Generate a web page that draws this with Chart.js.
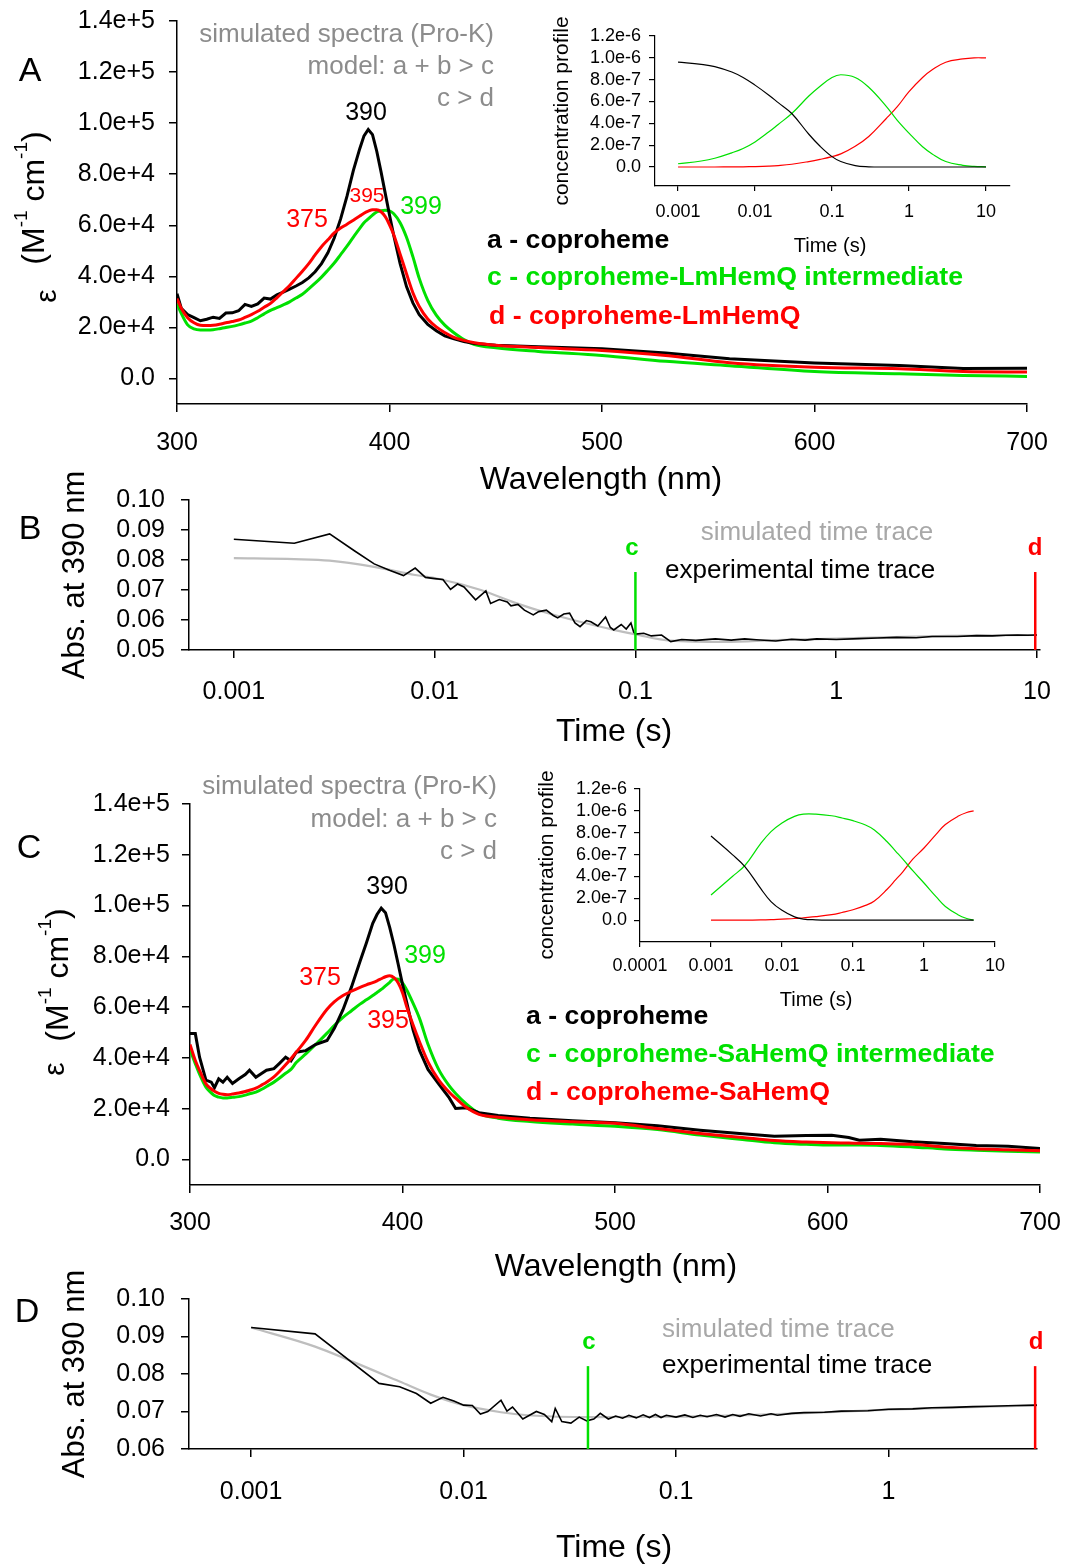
<!DOCTYPE html>
<html>
<head>
<meta charset="utf-8">
<script src="https://cdn.jsdelivr.net/npm/chart.js@4.4.0/dist/chart.umd.min.js"></script>
<style>
  body { margin: 0; background: #fff; }
  #fig { position: relative; width: 1065px; height: 1566px; overflow: hidden; background: #fff; }
  #fig canvas { position: absolute; }
</style>
</head>
<body>
<div id="fig">
  <canvas id="specA"></canvas>
  <canvas id="insetA"></canvas>
  <canvas id="traceB"></canvas>
  <canvas id="specC"></canvas>
  <canvas id="insetC"></canvas>
  <canvas id="traceD"></canvas>
</div>
<script>
// ---- data ----

// Panel A spectra (LmHemQ)
const wlA = [300,302,305,308,311,314,317,320,323,326,329,332,335,338,341,344,347,350,353,356,
  359,362,365,368,371,374,377,380,383,386,388,390,392,394,396,398,400,402,405,408,
  411,414,418,422,426,430,435,440,450,470,500,530,560,600,640,670,700];
const specA_a = [33200,27500,25000,23800,22600,23200,24000,23500,25600,25700,
  26500,29000,28200,29200,31500,31100,32800,33800,35000,36200,
  37600,39400,41800,45000,49200,55000,62500,71400,81500,90000,
  95000,97500,95500,89000,81000,72500,64000,56000,45000,36000,
  29600,25000,21200,18700,16700,15600,14500,13700,13000,12400,
  11600,10000,7700,6100,5100,3900,4000];
const specA_c = [29300,25500,21000,19400,19000,19000,19100,19500,20000,20400,
  21000,21700,22500,23800,25300,26700,27700,28800,30000,31500,
  33000,35100,37300,39700,42400,45200,48500,51800,55400,58800,
  61000,62500,64000,65200,65700,65900,65600,64500,61000,55300,
  47700,39200,30600,24800,20900,18100,15200,13300,12000,10600,
  9000,6700,5000,2700,1800,1200,800];
const specA_d = [31300,27500,23800,21800,20800,20700,20800,21200,21800,22300,
  22900,23900,25000,26300,27900,29400,31600,34000,36400,39200,
  42000,45000,48400,51600,54300,57000,58900,60400,62000,63600,
  64700,65500,66100,66100,65300,63400,60200,56300,48700,41000,
  33600,28200,23300,20200,18000,16200,14900,14000,13000,12100,
  11000,9000,6200,4400,3800,2700,2500];

// Panel C spectra (SaHemQ)
const wlC = [300,302.5,304.5,307.5,310,311.5,313.5,315.5,317.5,320,
  323,326,328,331,334,336,339.5,342,345,347.5,
  350,354.5,359,364.5,368,372,376,380,383,386,
  388,390,392,394,396,398,400,402,405,408,
  412,417,422,425,430,436,445,460,480,500,
  520,540,560,575,590,602,610,615,625,640,
  655,670,685,700];
const specC_a = [49600,49600,40300,31300,30500,28300,31800,30500,32400,30000,
  31800,33500,35200,32400,34100,35200,35800,37800,40300,38900,
  42300,42900,45300,46900,51800,59000,68000,78000,85300,93000,
  96500,99000,97200,91300,84500,76800,69000,61800,51000,43000,
  35500,29800,24300,20100,20400,18500,17400,16300,15300,14500,
  13300,11600,10200,9200,9500,9600,8700,7600,8000,7000,
  6300,5600,5300,4400];
const specC_c = [43400,37800,33600,28500,26300,25200,24600,24300,24300,24500,
  24800,25400,25900,26600,27800,28800,30500,32000,34000,35500,
  38200,41600,45200,49800,52900,56000,58600,61200,62900,64600,
  65800,67000,68400,69800,71200,71000,69600,66800,61500,55600,
  45400,35500,29000,26000,21900,18200,16300,15000,14000,13100,
  11800,9700,7900,6600,6000,5700,5700,5700,5600,5000,
  4200,3700,3300,3000];
const specC_d = [45300,39000,35100,29800,27800,26900,26100,25700,25500,25800,
  26200,26800,27300,28100,29500,30500,32600,34600,37300,39700,
  42300,47000,52800,59200,62200,64600,66300,67800,68800,69700,
  70400,71200,72000,72400,71600,69500,65700,60200,53000,46400,
  38500,31400,26500,24200,20600,17800,16700,15700,14900,14300,
  12200,10300,8700,7500,6900,6600,6500,6400,6300,6000,
  5000,4300,3900,3500];

// Panel B time traces
const tB_exp = [0.001,0.002,0.003,0.004,0.005,0.006,0.007,0.008,0.009,0.010,0.011,0.012,0.013,0.014,
  0.016,0.018,0.019,0.021,0.023,0.024,0.026,0.028,0.031,0.033,0.036,0.039,0.041,0.044,0.047,0.050,
  0.053,0.057,0.060,0.065,0.071,0.075,0.078,0.085,0.090,0.095,0.098,0.10,0.11,0.12,0.135,
  0.15,0.17,0.2,0.25,0.3,0.35,0.4,0.5,0.6,0.7,0.8,1.0,1.3,1.6,2.0,2.5,3.0,4.0,5.0,6.0,7.0,8.0,9.0,10.0];
const absB_exp = [0.0869,0.0856,0.0887,0.0830,0.0787,0.0765,0.0748,0.0773,0.0742,0.0738,
  0.0735,0.0702,0.0720,0.0710,0.0667,0.0697,0.0655,0.0668,0.0660,0.0647,
  0.0652,0.0633,0.0617,0.0628,0.0633,0.0615,0.0607,0.0620,0.0623,0.0590,
  0.0578,0.0598,0.0594,0.0580,0.0610,0.0575,0.0567,0.0585,0.0570,0.0590,
  0.0560,0.0553,0.0556,0.0547,0.0550,0.0528,0.0535,0.0532,0.0537,0.0533,
  0.0537,0.0534,0.0530,0.0536,0.0533,0.0537,0.0535,0.0538,0.0540,0.0542,
  0.0541,0.0545,0.0545,0.0548,0.0547,0.0549,0.0550,0.0549,0.0550];
const tB_sim = [0.001,0.002,0.003,0.005,0.008,0.01,0.017,0.025,0.036,0.053,0.078,0.1,0.15,0.28,0.5,1,3.6,10];
const absB_sim = [0.0806,0.0803,0.0798,0.0777,0.0750,0.0740,0.0700,0.0658,0.0624,0.0594,0.0567,0.0552,
  0.0531,0.0527,0.0533,0.0538,0.0547,0.0550];
const markB_t = [0.1, 9.8];       // c, d
const markB_span = [0.05, 0.076];

// Panel D time traces
const tD_exp = [0.001,0.002,0.004,0.005,0.006,0.007,0.008,0.009,0.010,
  0.011,0.012,0.013,0.015,0.016,0.017,0.019,0.022,0.024,0.026,
  0.027,0.029,0.032,0.035,0.038,0.041,0.044,0.048,0.052,0.056,
  0.06,0.065,0.07,0.075,0.08,0.085,0.09,0.1,0.11,0.12,0.13,0.14,0.155,0.17,0.185,
  0.2,0.22,0.25,0.28,0.3,0.35,0.4,0.5,0.6,0.8,1.0,1.3,
  1.6,2.0,2.5,3.0,4.0,5.0];
const absD_exp = [0.0924,0.0907,0.0775,0.0766,0.0748,0.0722,0.0738,0.0728,0.0717,
  0.0716,0.0693,0.0700,0.0730,0.0701,0.0712,0.0680,0.0700,0.0692,0.0673,
  0.0708,0.0673,0.0669,0.0685,0.0675,0.0680,0.0695,0.0680,0.0688,0.0682,
  0.0690,0.0683,0.0691,0.0684,0.0692,0.0684,0.0690,0.0685,0.0691,0.0684,0.0690,0.0686,0.0692,0.0685,0.0692,
  0.0687,0.0694,0.0688,0.0694,0.0690,0.0695,0.0697,0.0698,0.0701,0.0702,0.0706,0.0707,
  0.0710,0.0711,0.0713,0.0714,0.0716,0.0717];
const tD_sim = [0.001,0.002,0.003,0.005,0.007,0.01,0.015,0.02,0.04,0.1,0.3,1,2,5];
const absD_sim = [0.0924,0.0873,0.0833,0.0780,0.0745,0.0717,0.0698,0.0690,0.0685,0.0686,0.0693,0.0705,0.0710,0.0716];
const markD_t = [0.0385, 4.9];
const markD_span = [0.06, 0.0821];

// Insets: concentration profiles
const tInA = [0.001,0.002,0.003,0.005,0.007,0.01,0.015,0.02,0.03,0.05,0.07,0.1,0.13,0.2,0.3,0.5,0.7,1,1.5,2,3,5,7,10];
const concA_a = [9.6e-7,9.4e-7,9.2e-7,8.7e-7,8.2e-7,7.5e-7,6.6e-7,5.9e-7,4.9e-7,3.0e-7,1.9e-7,0.95e-7,0.5e-7,0.12e-7,0.02e-7,0,0,0,0,0,0,0,0,0];
const concA_c = [0.3e-7,0.55e-7,0.8e-7,1.3e-7,1.7e-7,2.3e-7,3.2e-7,3.9e-7,4.9e-7,6.5e-7,7.4e-7,8.2e-7,8.45e-7,8.2e-7,7.3e-7,5.6e-7,4.3e-7,3.1e-7,1.85e-7,1.2e-7,0.5e-7,0.15e-7,0.05e-7,0.02e-7];
const concA_d = [0,0,0,0.01e-7,0.02e-7,0.04e-7,0.08e-7,0.13e-7,0.25e-7,0.5e-7,0.7e-7,0.95e-7,1.2e-7,1.9e-7,2.8e-7,4.4e-7,5.5e-7,6.9e-7,8.2e-7,8.9e-7,9.6e-7,9.9e-7,10e-7,10e-7];

const tInC = [0.001,0.002,0.003,0.005,0.007,0.01,0.015,0.02,0.03,0.05,0.07,0.1,0.15,0.2,0.3,0.4,0.5,0.7,1,1.5,2,3,4,5];
const concC_a = [7.7e-7,6.0e-7,4.9e-7,2.9e-7,1.7e-7,0.9e-7,0.3e-7,0.1e-7,0.03e-7,0,0,0,0,0,0,0,0,0,0,0,0,0,0,0];
const concC_c = [2.3e-7,4.0e-7,5.0e-7,7.0e-7,8.1e-7,8.9e-7,9.5e-7,9.7e-7,9.7e-7,9.55e-7,9.35e-7,9.1e-7,8.7e-7,8.25e-7,7.2e-7,6.3e-7,5.6e-7,4.5e-7,3.4e-7,2.1e-7,1.25e-7,0.5e-7,0.15e-7,0];
const concC_d = [0,0,0,0.02e-7,0.05e-7,0.1e-7,0.15e-7,0.22e-7,0.32e-7,0.5e-7,0.7e-7,0.95e-7,1.35e-7,1.75e-7,2.8e-7,3.7e-7,4.4e-7,5.6e-7,6.6e-7,7.9e-7,8.75e-7,9.5e-7,9.85e-7,10e-7];

// Tick values
const specTicks = [0, 20000, 40000, 60000, 80000, 100000, 120000, 140000];
const wlTicks = [300, 400, 500, 600, 700];
const absTicksB = [0.05, 0.06, 0.07, 0.08, 0.09, 0.10];
const absTicksD = [0.06, 0.07, 0.08, 0.09, 0.10];
const timeTicksB = [0.001, 0.01, 0.1, 1, 10];
const timeTicksD = [0.001, 0.01, 0.1, 1];
const concTicks = [0, 2e-7, 4e-7, 6e-7, 8e-7, 1.0e-6, 1.2e-6];
const inTimeTicksA = [0.001, 0.01, 0.1, 1, 10];
const inTimeTicksC = [0.0001, 0.001, 0.01, 0.1, 1, 10];

// ---- styling ----
const FONT = "'Liberation Sans', Arial, Helvetica, sans-serif";
const BLACK = '#000000';
const RED = '#ff0000';
const GREEN = '#00e000';
const GRAY_TXT = '#8c8c8c';
const GRAY_TXT2 = '#a8a8a8';
const GRAY_LINE = '#bebebe';

const expFmt = v => (v === 0 ? '0.0' : v.toExponential(1));
const absFmt = v => v.toFixed(2);
const timeFmt = v => String(v);

function pts(xs, ys) {
  return xs.map((x, i) => ({ x: x, y: ys[i] }));
}
function vline(t, span) {
  return [{ x: t, y: span[0] }, { x: t, y: span[1] }];
}

// draws free text (labels, axis titles) in page coordinates
function textLayer(items, ox, oy) {
  return {
    id: 'texts',
    afterDraw(chart) {
      const ctx = chart.ctx;
      items.forEach(it => {
        const size = it.size || 25;
        const weight = it.bold ? 'bold ' : '';
        const parts = it.parts || [{ t: it.text }];
        ctx.save();
        ctx.translate(it.x - ox, it.y - oy);
        if (it.rot) ctx.rotate(-Math.PI / 2);
        ctx.fillStyle = it.color || BLACK;
        ctx.textBaseline = 'middle';
        ctx.textAlign = 'left';
        const widths = parts.map(p => {
          ctx.font = weight + (p.sup ? Math.round(size * 0.6) : size) + 'px ' + FONT;
          return ctx.measureText(p.t).width;
        });
        const total = widths.reduce((a, b) => a + b, 0);
        let x0 = it.align === 'left' ? 0 : it.align === 'right' ? -total : -total / 2;
        parts.forEach((p, i) => {
          ctx.font = weight + (p.sup ? Math.round(size * 0.6) : size) + 'px ' + FONT;
          ctx.fillText(p.t, x0, p.sup ? -size * 0.42 : 0);
          x0 += widths[i];
        });
        ctx.restore();
      });
    }
  };
}

function axis(a, dir, size) {
  return {
    type: a.type,
    position: dir === 'x' ? 'bottom' : 'left',
    min: a.min,
    max: a.max,
    bounds: 'data',
    grid: { display: true, drawOnChartArea: false, drawTicks: true, tickLength: a.tickLen, color: BLACK, lineWidth: a.lw },
    border: { display: true, color: BLACK, width: a.lw },
    ticks: {
      font: { family: FONT, size: a.fontSize },
      color: BLACK,
      padding: a.pad,
      autoSkip: false,
      maxRotation: 0,
      minRotation: 0,
      callback: a.fmt
    },
    afterBuildTicks: s => { s.ticks = a.ticks.map(v => ({ value: v })); },
    afterFit: s => {
      if (dir === 'x') { s.height = size; s.paddingLeft = 0; s.paddingRight = 0; }
      else { s.width = size; s.paddingTop = 0; s.paddingBottom = 0; }
    }
  };
}

// cv: canvas box, area: plot box (page coords)
function makePanel(id, cv, area, xAx, yAx, datasets, texts) {
  const el = document.getElementById(id);
  el.width = cv.w; el.height = cv.h;
  el.style.left = cv.l + 'px'; el.style.top = cv.t + 'px';
  el.style.width = cv.w + 'px'; el.style.height = cv.h + 'px';
  return new Chart(el.getContext('2d'), {
    type: 'line',
    data: { datasets: datasets },
    options: {
      responsive: false,
      animation: false,
      devicePixelRatio: 1,
      layout: { padding: { top: area.t - cv.t, right: cv.l + cv.w - area.r, left: 0, bottom: 0 } },
      plugins: { legend: { display: false }, tooltip: { enabled: false } },
      elements: { point: { radius: 0 }, line: { fill: false } },
      scales: {
        x: axis(xAx, 'x', cv.t + cv.h - area.b),
        y: axis(yAx, 'y', area.l - cv.l)
      }
    },
    plugins: [textLayer(texts, cv.l, cv.t)]
  });
}

function line(data, color, width, smooth) {
  const ds = { data: data, borderColor: color, borderWidth: width, pointRadius: 0, tension: 0 };
  if (smooth === 'mono') ds.cubicInterpolationMode = 'monotone';
  else if (smooth) ds.tension = 0.4;
  return ds;
}

const epsTitle = [{ t: '(M' }, { t: '-1', sup: true }, { t: ' cm' }, { t: '-1', sup: true }, { t: ')' }];

// ---- Panel A ----
makePanel('specA', { l: 0, t: 0, w: 1065, h: 505 }, { l: 177, t: 21, r: 1027, b: 404 },
  { type: 'linear', min: 300, max: 700, ticks: wlTicks, fmt: v => String(v), fontSize: 25, tickLen: 8, lw: 1.5, pad: 16 },
  { type: 'linear', min: -10000, max: 140000, ticks: specTicks, fmt: expFmt, fontSize: 25, tickLen: 8, lw: 1.5, pad: 14 },
  [
    line(pts(wlA, specA_d), RED, 3, 'mono'),
    line(pts(wlA, specA_a), BLACK, 3, false),
    line(pts(wlA, specA_c), GREEN, 3, 'mono')
  ],
  [
    { text: 'A', x: 30, y: 72, size: 34 },
    { text: 'simulated spectra (Pro-K)', x: 494, y: 35, size: 26, color: GRAY_TXT, align: 'right' },
    { text: 'model: a + b > c', x: 494, y: 67, size: 26, color: GRAY_TXT, align: 'right' },
    { text: 'c > d', x: 494, y: 99, size: 26, color: GRAY_TXT, align: 'right' },
    { text: '390', x: 366, y: 113, size: 25 },
    { text: '395', x: 367, y: 196, size: 21, color: RED },
    { text: '375', x: 307, y: 220, size: 25, color: RED },
    { text: '399', x: 421, y: 207, size: 25, color: GREEN },
    { text: 'a - coproheme', x: 487, y: 241, size: 26.7, bold: true, align: 'left' },
    { text: 'c - coproheme-LmHemQ intermediate', x: 487, y: 278, size: 26.7, bold: true, color: GREEN, align: 'left' },
    { text: 'd - coproheme-LmHemQ', x: 489, y: 317, size: 26.7, bold: true, color: RED, align: 'left' },
    { text: 'Wavelength (nm)', x: 601, y: 480, size: 32 },
    { parts: epsTitle, x: 35, y: 198, size: 32, rot: true },
    { text: 'ε', x: 48, y: 296, size: 30, rot: true }
  ]);

// ---- Inset A ----
makePanel('insetA', { l: 540, t: 0, w: 490, h: 262 }, { l: 655, t: 36, r: 1010, b: 186 },
  { type: 'logarithmic', min: 5.02e-4, max: 20.5, ticks: inTimeTicksA, fmt: timeFmt, fontSize: 18, tickLen: 5, lw: 1.2, pad: 10 },
  { type: 'linear', min: -1.74e-7, max: 1.2e-6, ticks: concTicks, fmt: expFmt, fontSize: 18, tickLen: 6, lw: 1.2, pad: 8 },
  [
    line(pts(tInA, concA_a), BLACK, 1.2, true),
    line(pts(tInA, concA_c), GREEN, 1.2, true),
    line(pts(tInA, concA_d), RED, 1.2, true)
  ],
  [
    { text: 'concentration profile', x: 562, y: 111, size: 21, rot: true },
    { text: 'Time (s)', x: 830, y: 246, size: 20 }
  ]);

// ---- Panel B ----
makePanel('traceB', { l: 0, t: 455, w: 1065, h: 305 }, { l: 189, t: 500, r: 1040, b: 650 },
  { type: 'logarithmic', min: 5.98e-4, max: 10.35, ticks: timeTicksB, fmt: timeFmt, fontSize: 25, tickLen: 8, lw: 1.5, pad: 19 },
  { type: 'linear', min: 0.05, max: 0.10, ticks: absTicksB, fmt: absFmt, fontSize: 25, tickLen: 8, lw: 1.5, pad: 16 },
  [
    line(vline(markB_t[0], markB_span), GREEN, 2.5, false),
    line(vline(markB_t[1], markB_span), RED, 2.5, false),
    line(pts(tB_exp, absB_exp), BLACK, 1.6, false),
    line(pts(tB_sim, absB_sim), GRAY_LINE, 2.2, 'mono')
  ],
  [
    { text: 'B', x: 30, y: 530, size: 34 },
    { text: 'simulated time trace', x: 817, y: 533, size: 26, color: GRAY_TXT2 },
    { text: 'experimental time trace', x: 665, y: 571, size: 26, align: 'left' },
    { text: 'c', x: 632, y: 548, size: 24, bold: true, color: GREEN },
    { text: 'd', x: 1035, y: 548, size: 24, bold: true, color: RED },
    { text: 'Time (s)', x: 614, y: 732, size: 32 },
    { text: 'Abs. at 390 nm', x: 75, y: 575, size: 31, rot: true }
  ]);

// ---- Panel C ----
makePanel('specC', { l: 0, t: 760, w: 1065, h: 530 }, { l: 190, t: 804, r: 1040, b: 1185 },
  { type: 'linear', min: 300, max: 700, ticks: wlTicks, fmt: v => String(v), fontSize: 25, tickLen: 8, lw: 1.5, pad: 15 },
  { type: 'linear', min: -10000, max: 140000, ticks: specTicks, fmt: expFmt, fontSize: 25, tickLen: 8, lw: 1.5, pad: 12 },
  [
    line(pts(wlC, specC_d), RED, 3, 'mono'),
    line(pts(wlC, specC_a), BLACK, 3, false),
    line(pts(wlC, specC_c), GREEN, 3, 'mono')
  ],
  [
    { text: 'C', x: 29, y: 849, size: 34 },
    { text: 'simulated spectra (Pro-K)', x: 497, y: 787, size: 26, color: GRAY_TXT, align: 'right' },
    { text: 'model: a + b > c', x: 497, y: 820, size: 26, color: GRAY_TXT, align: 'right' },
    { text: 'c > d', x: 497, y: 852, size: 26, color: GRAY_TXT, align: 'right' },
    { text: '390', x: 387, y: 887, size: 25 },
    { text: '399', x: 425, y: 956, size: 25, color: GREEN },
    { text: '375', x: 320, y: 978, size: 25, color: RED },
    { text: '395', x: 388, y: 1021, size: 25, color: RED },
    { text: 'a - coproheme', x: 526, y: 1017, size: 26.7, bold: true, align: 'left' },
    { text: 'c - coproheme-SaHemQ intermediate', x: 526, y: 1055, size: 26.7, bold: true, color: GREEN, align: 'left' },
    { text: 'd - coproheme-SaHemQ', x: 526, y: 1093, size: 26.7, bold: true, color: RED, align: 'left' },
    { text: 'Wavelength (nm)', x: 616, y: 1267, size: 32 },
    { parts: epsTitle, x: 59, y: 975, size: 32, rot: true },
    { text: 'ε', x: 56, y: 1069, size: 30, rot: true }
  ]);

// ---- Inset C ----
makePanel('insetC', { l: 525, t: 755, w: 490, h: 265 }, { l: 640, t: 789, r: 995, b: 942 },
  { type: 'logarithmic', min: 1e-4, max: 10, ticks: inTimeTicksC, fmt: timeFmt, fontSize: 18, tickLen: 5, lw: 1.2, pad: 8 },
  { type: 'linear', min: -2.0e-7, max: 1.2e-6, ticks: concTicks, fmt: expFmt, fontSize: 18, tickLen: 6, lw: 1.2, pad: 7 },
  [
    line(pts(tInC, concC_a), BLACK, 1.2, true),
    line(pts(tInC, concC_c), GREEN, 1.2, true),
    line(pts(tInC, concC_d), RED, 1.2, true)
  ],
  [
    { text: 'concentration profile', x: 547, y: 865, size: 21, rot: true },
    { text: 'Time (s)', x: 816, y: 1000, size: 20 }
  ]);

// ---- Panel D ----
makePanel('traceD', { l: 0, t: 1255, w: 1065, h: 311 }, { l: 189, t: 1299, r: 1037, b: 1449 },
  { type: 'logarithmic', min: 5.1e-4, max: 5.0, ticks: timeTicksD, fmt: timeFmt, fontSize: 25, tickLen: 8, lw: 1.5, pad: 20 },
  { type: 'linear', min: 0.06, max: 0.10, ticks: absTicksD, fmt: absFmt, fontSize: 25, tickLen: 8, lw: 1.5, pad: 16 },
  [
    line(vline(markD_t[0], markD_span), GREEN, 2.5, false),
    line(vline(markD_t[1], markD_span), RED, 2.5, false),
    line(pts(tD_exp, absD_exp), BLACK, 1.6, false),
    line(pts(tD_sim, absD_sim), GRAY_LINE, 2.2, 'mono')
  ],
  [
    { text: 'D', x: 27, y: 1313, size: 34 },
    { text: 'simulated time trace', x: 662, y: 1330, size: 26, color: GRAY_TXT2, align: 'left' },
    { text: 'experimental time trace', x: 662, y: 1366, size: 26, align: 'left' },
    { text: 'c', x: 589, y: 1342, size: 24, bold: true, color: GREEN },
    { text: 'd', x: 1036, y: 1342, size: 24, bold: true, color: RED },
    { text: 'Time (s)', x: 614, y: 1548, size: 32 },
    { text: 'Abs. at 390 nm', x: 75, y: 1374, size: 31, rot: true }
  ]);
</script>
</body>
</html>
